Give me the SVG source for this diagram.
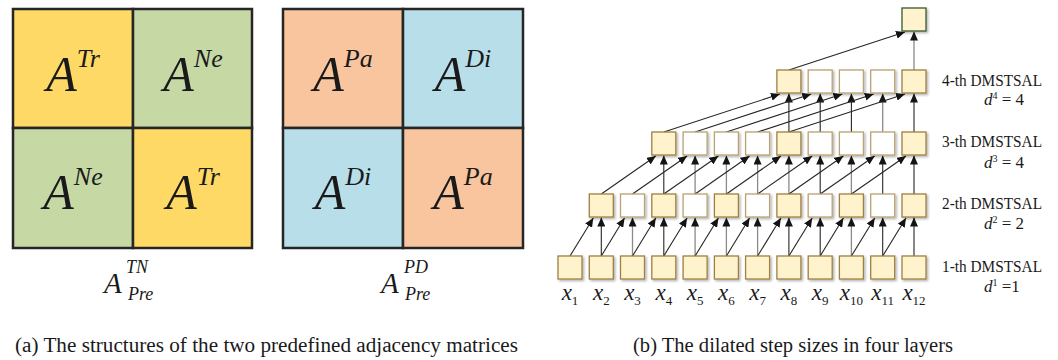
<svg xmlns="http://www.w3.org/2000/svg" width="1058" height="360" viewBox="0 0 1058 360" font-family="'Liberation Serif', 'Times New Roman', Tinos, 'DejaVu Serif', serif">
<defs>
<style>
.mt{font-style:italic;fill:#1a1a1a}
.rm{font-style:normal;fill:#1a1a1a}
.cell{stroke:#262626;stroke-width:2.5}
.y{fill:#FED966}.g{fill:#C6D9A5}.o{fill:#F8C59E}.b{fill:#B8DEE9}
.bx{stroke-width:1.3;filter:url(#sh)}
.by{fill:#FFF3CD;stroke:#9E8040}
.bw{fill:#FFFFFF;stroke:#B9A274}
.ln{stroke:#262626;stroke-width:1.1;fill:none;marker-end:url(#ah)}
.lg{stroke:#8a8a8a;stroke-width:1.3;fill:none;marker-end:url(#ah)}
</style>
<marker id="ah" markerWidth="9" markerHeight="8" refX="9" refY="4" orient="auto" markerUnits="userSpaceOnUse"><path d="M0,0 L9,4 L0,8 z" fill="#141414"/></marker>
<filter id="sh" x="-20%" y="-20%" width="150%" height="150%"><feDropShadow dx="1.5" dy="1.5" stdDeviation="1" flood-color="#000" flood-opacity="0.3"/></filter>
</defs>
<rect width="1058" height="360" fill="#fff"/>

<g id="matrix-TN">
<rect class="cell y" x="13" y="9" width="120" height="119"/>
<rect class="cell g" x="133" y="9" width="119" height="119"/>
<rect class="cell g" x="13" y="128" width="120" height="120"/>
<rect class="cell y" x="133" y="128" width="119" height="120"/>
<text class="mt" x="73" y="91" text-anchor="middle" font-size="50">A<tspan dy="-24" font-size="26">Tr</tspan></text>
<text class="mt" x="193" y="91" text-anchor="middle" font-size="50">A<tspan dy="-24" font-size="26">Ne</tspan></text>
<text class="mt" x="73" y="209" text-anchor="middle" font-size="50">A<tspan dy="-24" font-size="26">Ne</tspan></text>
<text class="mt" x="193" y="209" text-anchor="middle" font-size="50">A<tspan dy="-24" font-size="26">Tr</tspan></text>
<text class="mt" x="104" y="293" font-size="29">A</text>
<text class="mt" x="126" y="273" font-size="18">TN</text>
<text class="mt" x="128" y="300" font-size="18">Pre</text>
</g>

<g id="matrix-PD">
<rect class="cell o" x="283" y="9" width="120" height="119"/>
<rect class="cell b" x="403" y="9" width="120" height="119"/>
<rect class="cell b" x="283" y="128" width="120" height="120"/>
<rect class="cell o" x="403" y="128" width="120" height="120"/>
<text class="mt" x="343" y="91" text-anchor="middle" font-size="50">A<tspan dy="-24" font-size="26">Pa</tspan></text>
<text class="mt" x="463" y="91" text-anchor="middle" font-size="50">A<tspan dy="-24" font-size="26">Di</tspan></text>
<text class="mt" x="343" y="209" text-anchor="middle" font-size="50">A<tspan dy="-24" font-size="26">Di</tspan></text>
<text class="mt" x="463" y="209" text-anchor="middle" font-size="50">A<tspan dy="-24" font-size="26">Pa</tspan></text>
<text class="mt" x="381" y="293" font-size="29">A</text>
<text class="mt" x="404" y="273" font-size="18">PD</text>
<text class="mt" x="405" y="300" font-size="18">Pre</text>
</g>

<g id="connectors">
<path class="ln" d="M601.3,256 V217.5"/>
<path class="lg" d="M632.5,256 V217.5"/>
<path class="ln" d="M663.8,256 V217.5"/>
<path class="lg" d="M695.1,256 V217.5"/>
<path class="lg" d="M726.4,256 V217.5"/>
<path class="lg" d="M757.6,256 V217.5"/>
<path class="ln" d="M788.9,256 V217.5"/>
<path class="ln" d="M820.2,256 V217.5"/>
<path class="lg" d="M851.4,256 V217.5"/>
<path class="ln" d="M882.7,256 V217.5"/>
<path class="ln" d="M914,256 V217.5"/>
<path class="ln" d="M570,256 L593.3,218"/>
<path class="ln" d="M601.3,256 L624.5,218"/>
<path class="ln" d="M632.5,256 L655.8,218"/>
<path class="ln" d="M663.8,256 L687.1,218"/>
<path class="ln" d="M695.1,256 L718.4,218"/>
<path class="ln" d="M726.4,256 L749.6,218"/>
<path class="ln" d="M757.6,256 L780.9,218"/>
<path class="ln" d="M788.9,256 L812.2,218"/>
<path class="ln" d="M820.2,256 L843.4,218"/>
<path class="ln" d="M851.4,256 L874.7,218"/>
<path class="ln" d="M882.7,256 L906,218"/>
<path class="ln" d="M663.8,194 V155.5"/>
<path class="lg" d="M695.1,194 V155.5"/>
<path class="lg" d="M726.4,194 V155.5"/>
<path class="lg" d="M757.6,194 V155.5"/>
<path class="lg" d="M788.9,194 V155.5"/>
<path class="ln" d="M820.2,194 V155.5"/>
<path class="lg" d="M851.4,194 V155.5"/>
<path class="ln" d="M882.7,194 V155.5"/>
<path class="ln" d="M914,194 V155.5"/>
<path class="ln" d="M601.3,194 L655.8,156"/>
<path class="ln" d="M632.5,194 L687.1,156"/>
<path class="ln" d="M663.8,194 L718.4,156"/>
<path class="ln" d="M695.1,194 L749.6,156"/>
<path class="ln" d="M726.4,194 L780.9,156"/>
<path class="ln" d="M757.6,194 L812.2,156"/>
<path class="ln" d="M788.9,194 L843.4,156"/>
<path class="ln" d="M820.2,194 L874.7,156"/>
<path class="ln" d="M851.4,194 L906,156"/>
<path class="ln" d="M788.9,132 V93.5"/>
<path class="ln" d="M820.2,132 V93.5"/>
<path class="ln" d="M851.4,132 V93.5"/>
<path class="lg" d="M882.7,132 V93.5"/>
<path class="ln" d="M914,132 V93.5"/>
<path class="ln" d="M663.8,132 L779.9,94"/>
<path class="ln" d="M695.1,132 L811.2,94"/>
<path class="ln" d="M726.4,132 L842.4,94"/>
<path class="ln" d="M757.6,132 L873.7,94"/>
<path class="ln" d="M788.9,132 L905,94"/>
<path class="lg" d="M914,70 V31.5"/>
<path class="ln" d="M788.9,70 L905,32"/>
</g>

<g id="row1">
<rect class="bx by" x="558" y="256" width="24" height="23"/>
<rect class="bx by" x="589.3" y="256" width="24" height="23"/>
<rect class="bx by" x="620.5" y="256" width="24" height="23"/>
<rect class="bx by" x="651.8" y="256" width="24" height="23"/>
<rect class="bx by" x="683.1" y="256" width="24" height="23"/>
<rect class="bx by" x="714.4" y="256" width="24" height="23"/>
<rect class="bx by" x="745.6" y="256" width="24" height="23"/>
<rect class="bx by" x="776.9" y="256" width="24" height="23"/>
<rect class="bx by" x="808.2" y="256" width="24" height="23"/>
<rect class="bx by" x="839.4" y="256" width="24" height="23"/>
<rect class="bx by" x="870.7" y="256" width="24" height="23"/>
<rect class="bx by" x="902" y="256" width="24" height="23"/>
</g>
<g id="row2">
<rect class="bx by" x="589.3" y="194" width="24" height="23"/>
<rect class="bx bw" x="620.5" y="194" width="24" height="23"/>
<rect class="bx by" x="651.8" y="194" width="24" height="23"/>
<rect class="bx bw" x="683.1" y="194" width="24" height="23"/>
<rect class="bx by" x="714.4" y="194" width="24" height="23"/>
<rect class="bx bw" x="745.6" y="194" width="24" height="23"/>
<rect class="bx by" x="776.9" y="194" width="24" height="23"/>
<rect class="bx bw" x="808.2" y="194" width="24" height="23"/>
<rect class="bx by" x="839.4" y="194" width="24" height="23"/>
<rect class="bx bw" x="870.7" y="194" width="24" height="23"/>
<rect class="bx by" x="902" y="194" width="24" height="23"/>
</g>
<g id="row3">
<rect class="bx by" x="651.8" y="132" width="24" height="23"/>
<rect class="bx bw" x="683.1" y="132" width="24" height="23"/>
<rect class="bx bw" x="714.4" y="132" width="24" height="23"/>
<rect class="bx bw" x="745.6" y="132" width="24" height="23"/>
<rect class="bx by" x="776.9" y="132" width="24" height="23"/>
<rect class="bx bw" x="808.2" y="132" width="24" height="23"/>
<rect class="bx bw" x="839.4" y="132" width="24" height="23"/>
<rect class="bx bw" x="870.7" y="132" width="24" height="23"/>
<rect class="bx by" x="902" y="132" width="24" height="23"/>
</g>
<g id="row4">
<rect class="bx by" x="776.9" y="70" width="24" height="23"/>
<rect class="bx bw" x="808.2" y="70" width="24" height="23"/>
<rect class="bx bw" x="839.4" y="70" width="24" height="23"/>
<rect class="bx bw" x="870.7" y="70" width="24" height="23"/>
<rect class="bx by" x="902" y="70" width="24" height="23"/>
</g>
<g id="output">
<rect class="bx" x="902" y="8" width="24" height="23" fill="#FFF3CD" stroke="#3A5A2A"/>
</g>

<g id="inputs" font-size="23">
<text class="mt" x="570" y="300" text-anchor="middle">x<tspan class="rm" font-size="13" dy="5">1</tspan></text>
<text class="mt" x="601.3" y="300" text-anchor="middle">x<tspan class="rm" font-size="13" dy="5">2</tspan></text>
<text class="mt" x="632.5" y="300" text-anchor="middle">x<tspan class="rm" font-size="13" dy="5">3</tspan></text>
<text class="mt" x="663.8" y="300" text-anchor="middle">x<tspan class="rm" font-size="13" dy="5">4</tspan></text>
<text class="mt" x="695.1" y="300" text-anchor="middle">x<tspan class="rm" font-size="13" dy="5">5</tspan></text>
<text class="mt" x="726.4" y="300" text-anchor="middle">x<tspan class="rm" font-size="13" dy="5">6</tspan></text>
<text class="mt" x="757.6" y="300" text-anchor="middle">x<tspan class="rm" font-size="13" dy="5">7</tspan></text>
<text class="mt" x="788.9" y="300" text-anchor="middle">x<tspan class="rm" font-size="13" dy="5">8</tspan></text>
<text class="mt" x="820.2" y="300" text-anchor="middle">x<tspan class="rm" font-size="13" dy="5">9</tspan></text>
<text class="mt" x="851.4" y="300" text-anchor="middle">x<tspan class="rm" font-size="13" dy="5">10</tspan></text>
<text class="mt" x="882.7" y="300" text-anchor="middle">x<tspan class="rm" font-size="13" dy="5">11</tspan></text>
<text class="mt" x="914" y="300" text-anchor="middle">x<tspan class="rm" font-size="13" dy="5">12</tspan></text>
</g>

<g id="layer-labels" font-size="16.5">
<text class="rm" x="942" y="86" textLength="100" lengthAdjust="spacingAndGlyphs">4-th DMSTSAL</text>
<text class="mt" x="984" y="105" font-size="17">d<tspan class="rm" font-size="10" dy="-6">4</tspan><tspan class="rm" dy="6"> = 4</tspan></text>
<text class="rm" x="942" y="147" textLength="100" lengthAdjust="spacingAndGlyphs">3-th DMSTSAL</text>
<text class="mt" x="984" y="168" font-size="17">d<tspan class="rm" font-size="10" dy="-6">3</tspan><tspan class="rm" dy="6"> = 4</tspan></text>
<text class="rm" x="942" y="209" textLength="100" lengthAdjust="spacingAndGlyphs">2-th DMSTSAL</text>
<text class="mt" x="984" y="229" font-size="17">d<tspan class="rm" font-size="10" dy="-6">2</tspan><tspan class="rm" dy="6"> = 2</tspan></text>
<text class="rm" x="942" y="272" textLength="100" lengthAdjust="spacingAndGlyphs">1-th DMSTSAL</text>
<text class="mt" x="984" y="292" font-size="17">d<tspan class="rm" font-size="10" dy="-6">1</tspan><tspan class="rm" dy="6"> =1</tspan></text>
</g>

<g id="captions" font-size="20">
<text class="rm" x="15" y="352" textLength="503" lengthAdjust="spacingAndGlyphs">(a) The structures of the two predefined adjacency matrices</text>
<text class="rm" x="633" y="352" textLength="320" lengthAdjust="spacingAndGlyphs">(b) The dilated step sizes in four layers</text>
</g>
</svg>
